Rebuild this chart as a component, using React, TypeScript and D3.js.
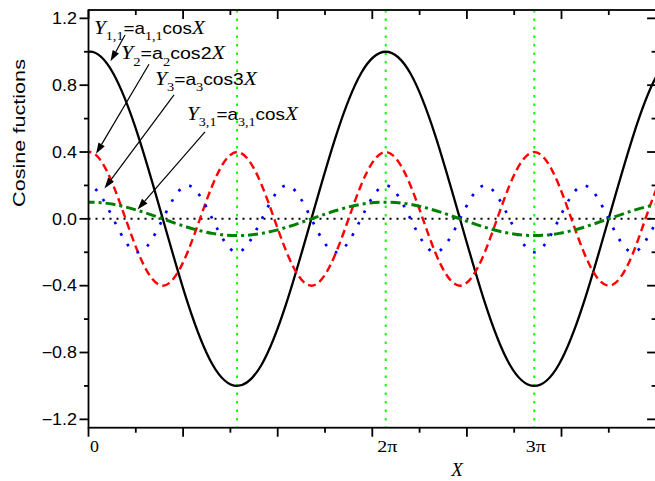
import React, { useRef, useEffect } from "react";
import * as d3 from "d3";

// sample positions in radians (pi/6 steps, one step past each edge so the spline ends off-plot)
const xRad = [
  -0.524, 0, 0.524, 1.047, 1.571, 2.094, 2.618, 3.142, 3.665, 4.189, 4.712, 5.236, 5.76,
  6.283, 6.807, 7.33, 7.854, 8.378, 8.901, 9.425, 9.948, 10.472, 10.996, 11.519, 12.043, 12.566,
];
const yCos11 = [
  0.87, 1.0, 0.87, 0.5, 0.0, -0.5, -0.87, -1.0, -0.87, -0.5, 0.0, 0.5, 0.87,
  1.0, 0.87, 0.5, 0.0, -0.5, -0.87, -1.0, -0.87, -0.5, 0.0, 0.5, 0.87, 1.0,
];
const yCos2 = [
  0.2, 0.4, 0.2, -0.2, -0.4, -0.2, 0.2, 0.4, 0.2, -0.2, -0.4, -0.2, 0.2,
  0.4, 0.2, -0.2, -0.4, -0.2, 0.2, 0.4, 0.2, -0.2, -0.4, -0.2, 0.2, 0.4,
];
const yCos3 = [
  0.0, 0.2, 0.0, -0.2, 0.0, 0.2, 0.0, -0.2, 0.0, 0.2, 0.0, -0.2, 0.0,
  0.2, 0.0, -0.2, 0.0, 0.2, 0.0, -0.2, 0.0, 0.2, 0.0, -0.2, 0.0, 0.2,
];
const yCos31 = [
  0.087, 0.1, 0.087, 0.05, 0.0, -0.05, -0.087, -0.1, -0.087, -0.05, 0.0, 0.05, 0.087,
  0.1, 0.087, 0.05, 0.0, -0.05, -0.087, -0.1, -0.087, -0.05, 0.0, 0.05, 0.087, 0.1,
];

// vertical reference lines at pi, 2pi, 3pi
const piLines = [3.1416, 6.2832, 9.4248];
const xTickLabels = [
  { x: 0, text: "0" },
  { x: 6.2832, text: "2\u03c0" },
  { x: 9.4248, text: "3\u03c0" },
];
const yTickLabels = [-1.2, -0.8, -0.4, 0.0, 0.4, 0.8, 1.2];

// annotation anchors and arrow ends, in data units
const annLabels = [
  { x: 0.116, y: 1.107, sub1: "1,1", sub2: "1,1", fn: "cos", len: 111 },
  { x: 0.687, y: 0.955, sub1: "2", sub2: "2", fn: "cos2", len: 104 },
  { x: 1.406, y: 0.802, sub1: "3", sub2: "3", fn: "cos3", len: 102 },
  { x: 2.082, y: 0.592, sub1: "3,1", sub2: "3,1", fn: "cos", len: 111 },
];
const annArrows = [
  { x1: 0.772, y1: 1.1, x2: 0.465, y2: 0.943 },
  { x1: 1.279, y1: 0.925, x2: 0.159, y2: 0.389 },
  { x1: 1.808, y1: 0.742, x2: 0.338, y2: 0.182 },
  { x1: 2.463, y1: 0.52, x2: 1.036, y2: 0.056 },
];

const W = 655;
const H = 481;
const SANS = "'Liberation Sans', Arial, sans-serif";
const SERIF = "'Liberation Serif', 'Times New Roman', serif";

export default function App() {
  const svgRef = useRef<SVGSVGElement | null>(null);

  useEffect(() => {
    if (!svgRef.current) return;
    const svg = d3.select(svgRef.current);
    svg.selectAll("*").remove();

    const x = d3.scaleLinear().domain([0, 12]).range([88.5, 656.1]);
    const y = d3.scaleLinear().domain([-1.25, 1.25]).range([427.7, 10]);
    const [x0, x1] = x.range();
    const [yb, yt] = y.range();

    svg
      .append("defs")
      .append("clipPath")
      .attr("id", "plot-clip")
      .append("rect")
      .attr("x", x0)
      .attr("y", yt)
      .attr("width", x1 - x0)
      .attr("height", yb - yt);

    const plot = svg.append("g").attr("clip-path", "url(#plot-clip)");

    // vertical dotted lines at multiples of pi
    plot
      .selectAll("line.pi")
      .data(piLines)
      .join("line")
      .attr("x1", (d) => x(d))
      .attr("x2", (d) => x(d))
      .attr("y1", yt)
      .attr("y2", yb)
      .attr("stroke", "#00ff00")
      .attr("stroke-width", 2)
      .attr("stroke-dasharray", "2.5,6");

    // zero line
    plot
      .append("line")
      .attr("x1", x0)
      .attr("x2", x1)
      .attr("y1", y(0))
      .attr("y2", y(0))
      .attr("stroke", "#000")
      .attr("stroke-width", 2)
      .attr("stroke-dasharray", "2,5");

    const series = [
      { values: yCos11, color: "#000000", width: 2.3, dash: null },
      { values: yCos2, color: "#ff0000", width: 2.4, dash: "8,4.5" },
      { values: yCos3, color: "#0000ff", width: 2.7, dash: "2.7,10" },
      { values: yCos31, color: "#008000", width: 3, dash: "10,4,3,4" },
    ];

    const line = d3
      .line<number>()
      .x((_, i) => x(xRad[i]))
      .y((d) => y(d))
      .curve(d3.curveNatural);

    series.forEach((s) => {
      plot
        .append("path")
        .datum(s.values)
        .attr("fill", "none")
        .attr("stroke", s.color)
        .attr("stroke-width", s.width)
        .attr("stroke-dasharray", s.dash)
        .attr("d", line);
    });

    // axes frame and ticks
    const axes = svg.append("g").attr("stroke", "#000").attr("stroke-width", 1.8);
    axes.append("rect")
      .attr("x", x0)
      .attr("y", yt)
      .attr("width", x1 - x0)
      .attr("height", yb - yt)
      .attr("fill", "none");

    const xMajor = d3.range(0, 13, 2);
    const xMinor = d3.range(1, 12, 2);
    const yMajor = yTickLabels;
    const yMinor = [-1.0, -0.6, -0.2, 0.2, 0.6, 1.0];

    const xt = (vals: number[], len: number) => {
      vals.forEach((v) => {
        axes.append("line").attr("x1", x(v)).attr("x2", x(v)).attr("y1", yb).attr("y2", yb + len);
        axes.append("line").attr("x1", x(v)).attr("x2", x(v)).attr("y1", yt).attr("y2", yt + len);
      });
    };
    xt(xMajor, 9);
    xt(xMinor, 5);

    const yTk = (vals: number[], len: number) => {
      vals.forEach((v) => {
        axes.append("line").attr("x1", x0 - len).attr("x2", x0).attr("y1", y(v)).attr("y2", y(v));
        axes.append("line").attr("x1", x1 - len).attr("x2", x1).attr("y1", y(v)).attr("y2", y(v));
      });
    };
    yTk(yMajor, 9);
    yTk(yMinor, 4.5);

    // y tick labels
    yTickLabels.forEach((v) => {
      svg
        .append("text")
        .attr("transform", `translate(77,${y(v)}) scale(1.12,1)`)
        .attr("dy", "0.36em")
        .attr("text-anchor", "end")
        .attr("font-family", SANS)
        .attr("font-size", 16)
        .text(d3.format(".1f")(v));
    });

    // x tick labels
    xTickLabels.forEach((d) => {
      const isZero = d.x === 0;
      svg
        .append("text")
        .attr("transform", `translate(${x(d.x) + 1.5},452) scale(${isZero ? 1.05 : 1.25},1)`)
        .attr("text-anchor", isZero ? "start" : "middle")
        .attr("font-family", SERIF)
        .attr("font-size", isZero ? 17 : 16)
        .text(d.text);
    });

    // axis titles
    svg
      .append("text")
      .attr("x", 457)
      .attr("y", 476)
      .attr("text-anchor", "middle")
      .attr("font-family", SERIF)
      .attr("font-style", "italic")
      .attr("font-size", 19)
      .text("X");

    const yTitle = svg
      .append("text")
      .attr("text-anchor", "middle")
      .attr("font-family", SANS)
      .attr("font-size", 16.5)
      .text("Cosine fuctions");
    const yw = (yTitle.node() as SVGTextElement).getComputedTextLength() || 120;
    yTitle.attr("transform", `translate(25,133) rotate(-90) scale(${148 / yw},1)`);

    // annotation labels
    annLabels.forEach((a) => {
      const t = svg.append("text").attr("fill", "#000");
      const part = (txt: string, kind: "it" | "sub" | "sans", dy: number) => {
        const ts = t.append("tspan").attr("dy", dy).text(txt);
        if (kind === "it") ts.attr("font-family", SERIF).attr("font-style", "italic").attr("font-size", 18);
        if (kind === "sub") ts.attr("font-family", SERIF).attr("font-size", 12);
        if (kind === "sans") ts.attr("font-family", SANS).attr("font-size", 16);
      };
      part("Y", "it", 0);
      part(a.sub1, "sub", 6.5);
      part("=a", "sans", -6.5);
      part(a.sub2, "sub", 6.5);
      part(a.fn, "sans", -6.5);
      part("X", "it", 0);
      const w = (t.node() as SVGTextElement).getComputedTextLength() || a.len;
      t.attr("transform", `translate(${x(a.x)},${y(a.y)}) scale(${a.len / w},1)`);
    });

    // arrows
    annArrows.forEach((a) => {
      const sx = x(a.x1);
      const sy = y(a.y1);
      const ex = x(a.x2);
      const ey = y(a.y2);
      const ang = Math.atan2(ey - sy, ex - sx);
      const hl = 11;
      const hw = 3.6;
      const bx = ex - hl * Math.cos(ang);
      const by = ey - hl * Math.sin(ang);
      svg
        .append("line")
        .attr("x1", sx)
        .attr("y1", sy)
        .attr("x2", bx)
        .attr("y2", by)
        .attr("stroke", "#000")
        .attr("stroke-width", 1.2);
      const px = -Math.sin(ang) * hw;
      const py = Math.cos(ang) * hw;
      svg
        .append("path")
        .attr("d", `M${ex},${ey}L${bx + px},${by + py}L${bx - px},${by - py}Z`)
        .attr("fill", "#000");
    });
  }, []);

  return (
    <svg
      ref={svgRef}
      width={W}
      height={H}
      style={{ position: "absolute", left: 0, top: 0, background: "#fff" }}
    />
  );
}
